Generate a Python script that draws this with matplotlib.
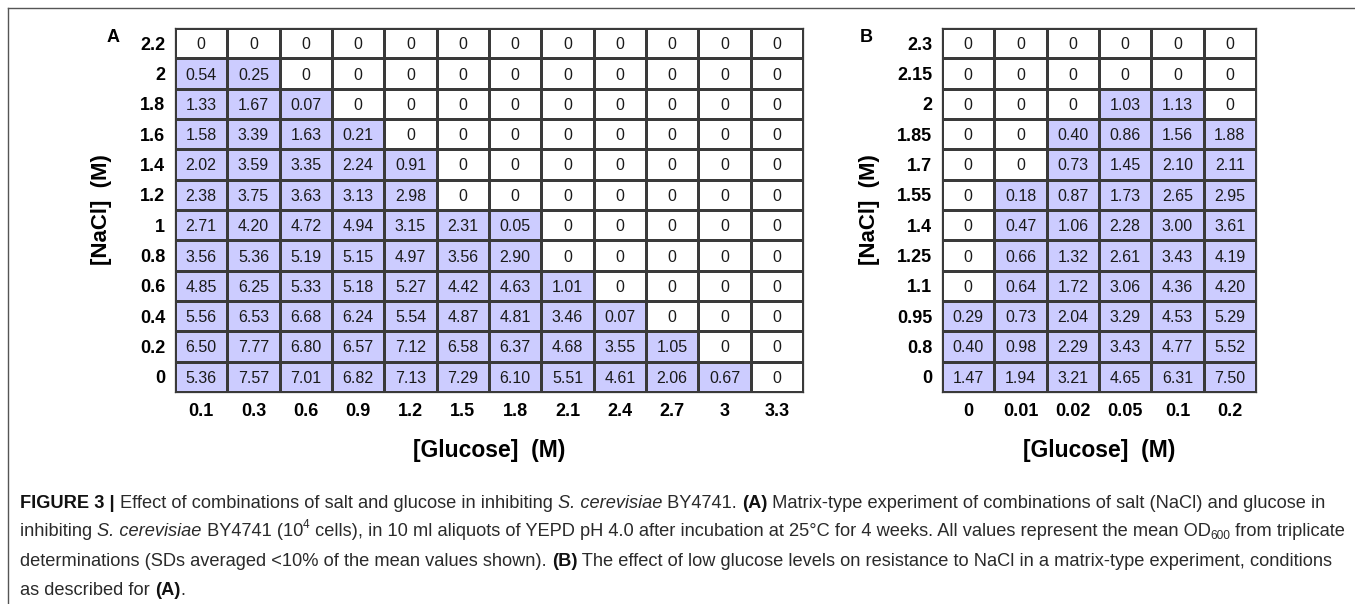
import matplotlib
matplotlib.use('Agg')
import matplotlib.pyplot as plt
from matplotlib.colors import ListedColormap
from matplotlib.lines import Line2D
from matplotlib import font_manager
import numpy as np

# ---- data: panel A (rows listed top to bottom) ----
a_glucose = ['0.1', '0.3', '0.6', '0.9', '1.2', '1.5', '1.8', '2.1', '2.4', '2.7', '3', '3.3']
a_nacl = ['2.2', '2', '1.8', '1.6', '1.4', '1.2', '1', '0.8', '0.6', '0.4', '0.2', '0']
a_values = [
    [0, 0, 0, 0, 0, 0, 0, 0, 0, 0, 0, 0],
    [0.54, 0.25, 0, 0, 0, 0, 0, 0, 0, 0, 0, 0],
    [1.33, 1.67, 0.07, 0, 0, 0, 0, 0, 0, 0, 0, 0],
    [1.58, 3.39, 1.63, 0.21, 0, 0, 0, 0, 0, 0, 0, 0],
    [2.02, 3.59, 3.35, 2.24, 0.91, 0, 0, 0, 0, 0, 0, 0],
    [2.38, 3.75, 3.63, 3.13, 2.98, 0, 0, 0, 0, 0, 0, 0],
    [2.71, 4.20, 4.72, 4.94, 3.15, 2.31, 0.05, 0, 0, 0, 0, 0],
    [3.56, 5.36, 5.19, 5.15, 4.97, 3.56, 2.90, 0, 0, 0, 0, 0],
    [4.85, 6.25, 5.33, 5.18, 5.27, 4.42, 4.63, 1.01, 0, 0, 0, 0],
    [5.56, 6.53, 6.68, 6.24, 5.54, 4.87, 4.81, 3.46, 0.07, 0, 0, 0],
    [6.50, 7.77, 6.80, 6.57, 7.12, 6.58, 6.37, 4.68, 3.55, 1.05, 0, 0],
    [5.36, 7.57, 7.01, 6.82, 7.13, 7.29, 6.10, 5.51, 4.61, 2.06, 0.67, 0],
]

# ---- data: panel B ----
b_glucose = ['0', '0.01', '0.02', '0.05', '0.1', '0.2']
b_nacl = ['2.3', '2.15', '2', '1.85', '1.7', '1.55', '1.4', '1.25', '1.1', '0.95', '0.8', '0']
b_values = [
    [0, 0, 0, 0, 0, 0],
    [0, 0, 0, 0, 0, 0],
    [0, 0, 0, 1.03, 1.13, 0],
    [0, 0, 0.40, 0.86, 1.56, 1.88],
    [0, 0, 0.73, 1.45, 2.10, 2.11],
    [0, 0.18, 0.87, 1.73, 2.65, 2.95],
    [0, 0.47, 1.06, 2.28, 3.00, 3.61],
    [0, 0.66, 1.32, 2.61, 3.43, 4.19],
    [0, 0.64, 1.72, 3.06, 4.36, 4.20],
    [0.29, 0.73, 2.04, 3.29, 4.53, 5.29],
    [0.40, 0.98, 2.29, 3.43, 4.77, 5.52],
    [1.47, 1.94, 3.21, 4.65, 6.31, 7.50],
]

W, H = 1355, 604
SANS = ['Liberation Sans', 'DejaVu Sans']
names = {f.name for f in font_manager.fontManager.ttflist}
CAP = ['Liberation Sans Narrow', 'Liberation Sans'] if 'Liberation Sans Narrow' in names else SANS
plt.rcParams['font.family'] = SANS

fig = plt.figure(figsize=(W / 100, H / 100), dpi=100)
fill = ListedColormap(['white', '#ccccff'])
grid_col = '#3a3a3a'


def fx(px):
    return px / W


def fy(py):
    return 1 - py / H


def draw_matrix(rect, values, xlabels, ylabels, letter, letter_x, ylab_x):
    vals = np.array(values, dtype=float)
    nr, nc = vals.shape
    ax = fig.add_axes(rect)
    ax.pcolormesh(np.arange(nc + 1), np.arange(nr + 1), (vals > 0).astype(int),
                  cmap=fill, vmin=0, vmax=1, edgecolors=grid_col, linewidth=0.9)
    ax.set_xlim(0, nc)
    ax.set_ylim(nr, 0)
    for r in range(nr):
        for c in range(nc):
            v = vals[r, c]
            s = '0' if v == 0 else '%.2f' % v
            ax.text(c + 0.5, r + 0.5, s, ha='center', va='center_baseline',
                    fontsize=11.5, color='#1a1a1a')
    ax.set_xticks(np.arange(nc) + 0.5)
    ax.set_xticklabels(xlabels, fontsize=13, fontweight='bold')
    ax.set_yticks(np.arange(nr) + 0.5)
    ax.set_yticklabels(ylabels, fontsize=13, fontweight='bold', va='center_baseline')
    ax.tick_params(axis='x', length=0, pad=8)
    ax.tick_params(axis='y', length=0, pad=7)
    for sp in ax.spines.values():
        sp.set_color(grid_col)
        sp.set_linewidth(0.9)
    x0 = rect[0] + rect[2] / 2
    fig.text(x0, fy(450), '[Glucose]  (M)', ha='center', va='center',
             fontsize=16.5, fontweight='bold')
    fig.text(fx(ylab_x), fy(210), '[NaCl]  (M)', ha='center', va='center',
             rotation=90, fontsize=16, fontweight='bold')
    fig.text(fx(letter_x), fy(38), letter, ha='center', va='center',
             fontsize=13, fontweight='bold')
    return ax


top, bot = 28, 392
draw_matrix([fx(175), fy(bot), fx(803 - 175), (bot - top) / H],
            a_values, a_glucose, a_nacl, 'A', 113, 102)
draw_matrix([fx(942), fy(bot), fx(1256 - 942), (bot - top) / H],
            b_values, b_glucose, b_nacl, 'B', 866, 869)

# frame lines of the figure box
fig.add_artist(Line2D([fx(8), 1], [fy(8), fy(8)], transform=fig.transFigure,
                      color='#555555', lw=1))
fig.add_artist(Line2D([fx(8), fx(8)], [fy(8), 0], transform=fig.transFigure,
                      color='#555555', lw=1))

# ---- caption ----
caption = [
    [('FIGURE 3 | ', 'b'), ('Effect of combinations of salt and glucose in inhibiting ', 'n'),
     ('S. cerevisiae', 'i'), (' BY4741. ', 'n'), ('(A)', 'b'),
     (' Matrix-type experiment of combinations of salt (NaCl) and glucose in', 'n')],
    [('inhibiting ', 'n'), ('S. cerevisiae', 'i'), (' BY4741 (10', 'n'), ('4', 'sup'),
     (' cells), in 10 ml aliquots of YEPD pH 4.0 after incubation at 25\u00b0C for 4 weeks. '
      'All values represent the mean OD', 'n'), ('600', 'sub'), (' from triplicate', 'n')],
    [('determinations (SDs averaged <10% of the mean values shown). ', 'n'), ('(B)', 'b'),
     (' The effect of low glucose levels on resistance to NaCl in a matrix-type experiment, conditions', 'n')],
    [('as described for ', 'n'), ('(A)', 'b'), ('.', 'n')],
]
line_y = [503, 531, 561, 590]
renderer = fig.canvas.get_renderer()


def draw_line(pieces, x, y, size, keep=True):
    arts = []
    for s, st in pieces:
        kw = dict(fontsize=size, color='#2a2a2a', family=CAP, va='baseline', ha='left')
        yy = y
        if st == 'b':
            kw['fontweight'] = 'bold'
            kw['color'] = '#111111'
        elif st == 'i':
            kw['style'] = 'italic'
        elif st == 'sup':
            kw['fontsize'] = size * 0.65
            yy = y - 7 * size / 12
        elif st == 'sub':
            kw['fontsize'] = size * 0.65
            yy = y + 3 * size / 12
        t = fig.text(fx(x), fy(yy), s, **kw)
        x += t.get_window_extent(renderer).width
        arts.append(t)
    if not keep:
        for t in arts:
            t.remove()
    return x


base = 12
end = draw_line(caption[1], 20, line_y[1], base, keep=False)
size = base * (1346 - 20) / (end - 20)
for pieces, yv in zip(caption, line_y):
    draw_line(pieces, 20, yv + 5, size)

fig.savefig('out.png', dpi=100)
